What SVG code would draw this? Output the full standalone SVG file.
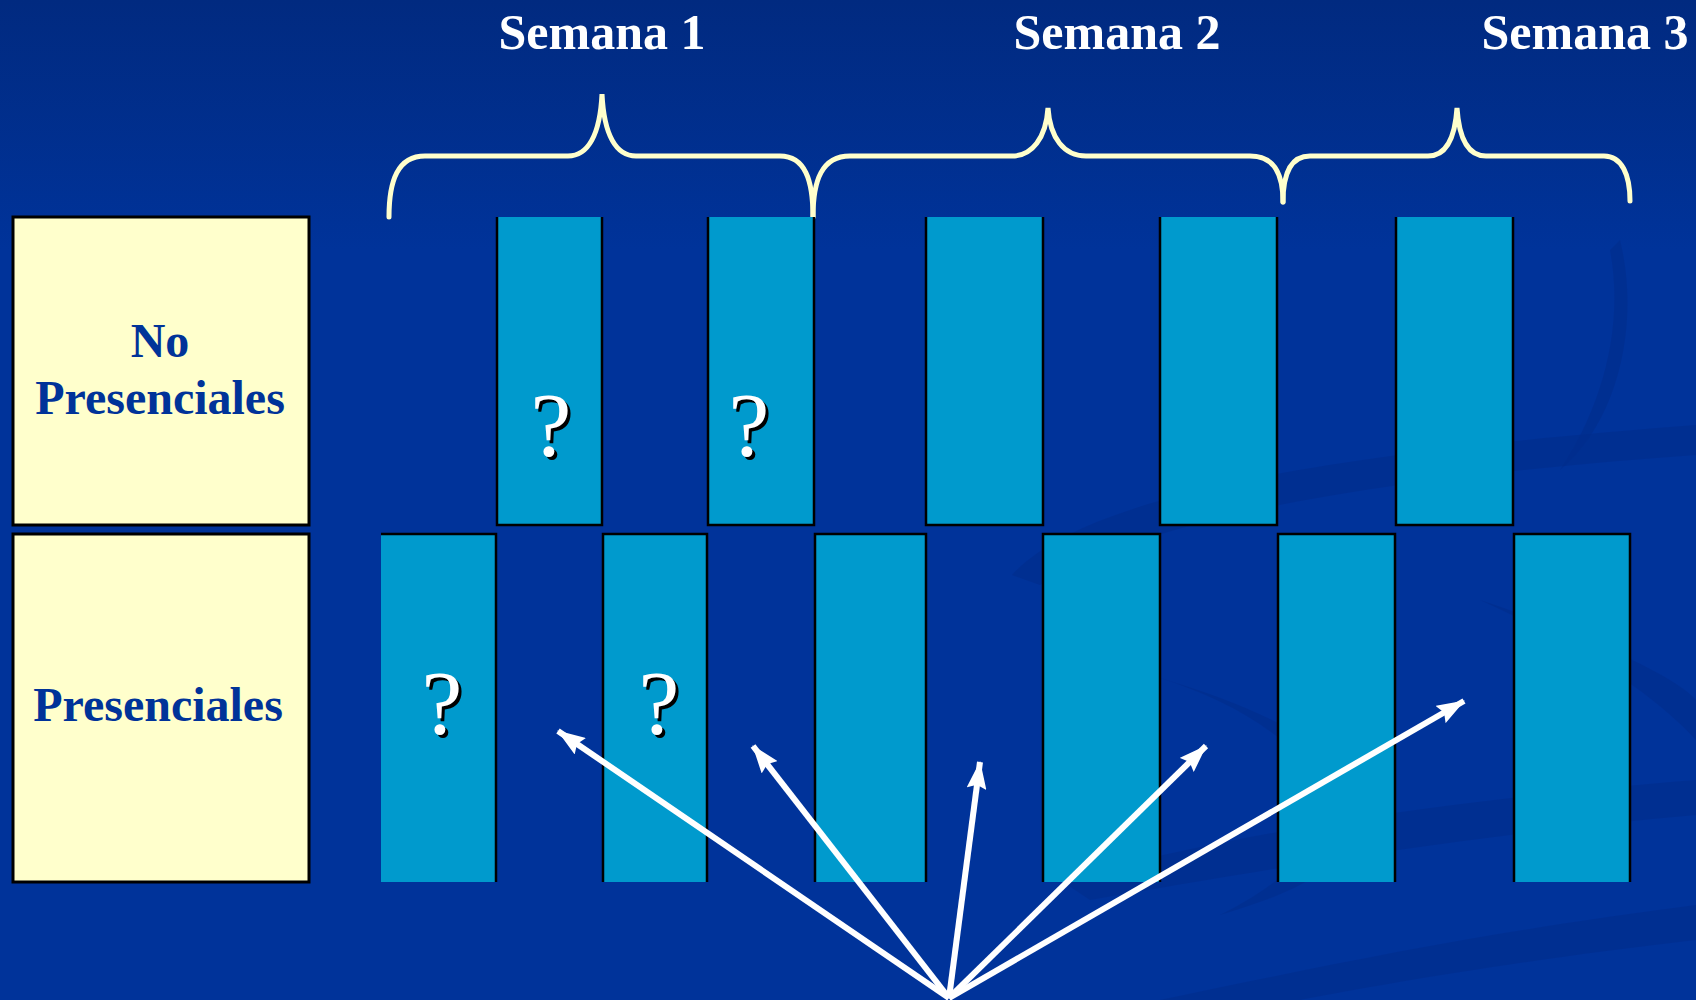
<svg xmlns="http://www.w3.org/2000/svg" width="1696" height="1000" viewBox="0 0 1696 1000">
<defs>
<linearGradient id="bg" x1="0" y1="0" x2="0" y2="1">
<stop offset="0" stop-color="#012a80"/>
<stop offset="0.25" stop-color="#00339a"/>
<stop offset="1" stop-color="#00339a"/>
</linearGradient>
<marker id="ah" viewBox="0 0 28 20" refX="27" refY="10" markerWidth="28" markerHeight="20" markerUnits="userSpaceOnUse" orient="auto">
<path d="M0,0 L28,10 L0,20 L4,10 z" fill="#ffffff"/>
</marker>
<style>
.lbl{font-family:"Liberation Serif","Times New Roman",serif;font-weight:bold;fill:#003399;text-anchor:middle}
.wk{font-family:"Liberation Serif","Times New Roman",serif;font-weight:bold;fill:#ffffff;text-anchor:middle;font-size:50px}
.box{fill:#ffffcc;stroke:#000;stroke-width:3}
.bar{fill:#009acd}
.edge{fill:none;stroke:#000;stroke-width:2.5}
.brace{fill:none;stroke:#ffffcc;stroke-width:5;stroke-linecap:round}
.q{font-family:"Liberation Serif","Times New Roman",serif;font-size:92px;text-anchor:middle}
.arr{stroke:#ffffff;stroke-width:6;fill:none;marker-end:url(#ah)}
.sw{fill:#002d8c;opacity:0.6}
</style>
</defs>
<rect x="0" y="0" width="1696" height="1000" fill="url(#bg)"/>
<g id="background-swirls">
<path class="sw" d="M1012,575 C1080,500 1300,455 1696,425 L1696,455 C1350,480 1150,520 1040,585 Z"/>
<path class="sw" d="M1060,880 C1250,830 1450,800 1696,780 L1696,815 C1470,835 1260,870 1090,900 Z"/>
<path class="sw" d="M1160,1000 C1350,960 1500,930 1696,905 L1696,940 C1520,960 1380,985 1300,1000 Z"/>
<path class="sw" d="M1160,678 C1300,720 1380,770 1350,840 C1330,880 1270,900 1220,915 C1290,880 1330,840 1320,790 C1300,740 1230,700 1160,678 Z"/>
<path class="sw" d="M1620,240 C1640,320 1620,420 1560,470 C1600,410 1625,330 1610,250 Z"/>
<path class="sw" d="M1480,600 C1600,640 1680,680 1696,700 L1696,740 C1660,700 1590,650 1480,600 Z"/>
</g>
<g id="titles">
<text class="wk" x="602" y="49">Semana 1</text>
<text class="wk" x="1117" y="49">Semana 2</text>
<text class="wk" x="1585" y="49">Semana 3</text>
</g>
<g id="braces">
<path class="brace" d="M389,217 C389,180 398,156 425,156 L568,156 C588,156 600,135 602,94 C604,135 616,156 636,156 L780,156 C805,156 813,180 813,217"/>
<path class="brace" d="M813,217 C813,180 822,156 850,156 L1012,156 C1032,156 1046,138 1048,108 C1050,138 1064,156 1086,156 L1250,156 C1275,156 1283,175 1283,202"/>
<path class="brace" d="M1283,202 C1283,175 1290,156 1310,156 L1428,156 C1446,156 1455,138 1457,108 C1459,138 1468,156 1486,156 L1604,156 C1622,156 1630,175 1630,201"/>
</g>
<g id="node-no-presenciales">
<rect class="box" x="13" y="217" width="296" height="308"/>
<text class="lbl" x="160" y="357" font-size="48">No</text>
<text class="lbl" x="160" y="414" font-size="48">Presenciales</text>
</g>
<g id="node-presenciales">
<rect class="box" x="13" y="534" width="296" height="348"/>
<text class="lbl" x="158" y="721" font-size="48">Presenciales</text>
</g>
<g id="top-bars">
<rect class="bar" x="497" y="217" width="105" height="308"/>
<path class="edge" d="M497,217 V525 H602 V217"/>
<rect class="bar" x="708" y="217" width="106" height="308"/>
<path class="edge" d="M708,217 V525 H814 V217"/>
<rect class="bar" x="926" y="217" width="117" height="308"/>
<path class="edge" d="M926,217 V525 H1043 V217"/>
<rect class="bar" x="1160" y="217" width="117" height="308"/>
<path class="edge" d="M1160,217 V525 H1277 V217"/>
<rect class="bar" x="1396" y="217" width="117" height="308"/>
<path class="edge" d="M1396,217 V525 H1513 V217"/>
</g>
<g id="bottom-bars">
<rect class="bar" x="381" y="534" width="115" height="348"/>
<path class="edge" d="M381,534 H496 V882"/>
<rect class="bar" x="603" y="534" width="104" height="348"/>
<path class="edge" d="M603,882 V534 H707 V882"/>
<rect class="bar" x="815" y="534" width="111" height="348"/>
<path class="edge" d="M815,882 V534 H926 V882"/>
<rect class="bar" x="1043" y="534" width="117" height="348"/>
<path class="edge" d="M1043,882 V534 H1160 V882"/>
<rect class="bar" x="1278" y="534" width="117" height="348"/>
<path class="edge" d="M1278,882 V534 H1395 V882"/>
<rect class="bar" x="1514" y="534" width="116" height="348"/>
<path class="edge" d="M1514,882 V534 H1630 V882"/>
</g>
<g id="question-marks">
<text class="q" x="554" y="459" fill="#000">?</text>
<text class="q" x="551" y="456" fill="#fff">?</text>
<text class="q" x="752" y="459" fill="#000">?</text>
<text class="q" x="749" y="456" fill="#fff">?</text>
<text class="q" x="445" y="737" fill="#000">?</text>
<text class="q" x="442" y="734" fill="#fff">?</text>
<text class="q" x="662" y="737" fill="#000">?</text>
<text class="q" x="659" y="734" fill="#fff">?</text>
</g>
<g id="connectors">
<line class="arr" x1="949" y1="998" x2="558" y2="731"/>
<line class="arr" x1="949" y1="998" x2="753" y2="746"/>
<line class="arr" x1="949" y1="998" x2="980" y2="762"/>
<line class="arr" x1="949" y1="998" x2="1206" y2="746"/>
<line class="arr" x1="949" y1="998" x2="1464" y2="701"/>
</g>
</svg>
